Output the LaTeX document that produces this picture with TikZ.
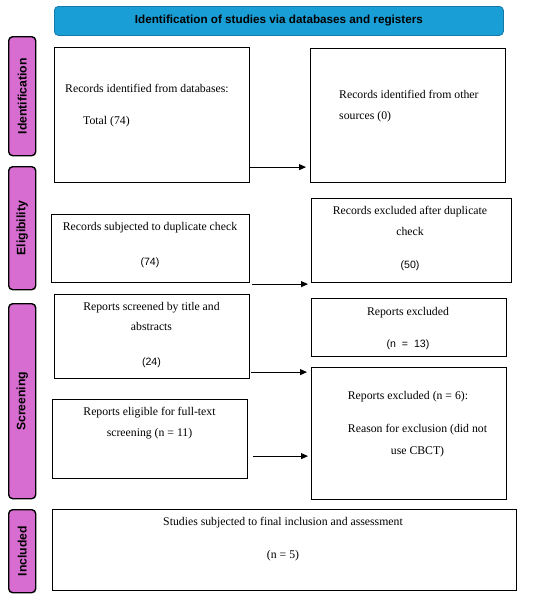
\documentclass[tikz,border=0pt]{standalone}
\usepackage{fontspec}
\setmainfont{Liberation Serif}
\setsansfont{Liberation Sans}
\usetikzlibrary{arrows.meta,calc}
\definecolor{titleblue}{HTML}{1A9ED6}
\definecolor{titleedge}{HTML}{1479A8}
\definecolor{phasepink}{HTML}{D76DD0}
\begin{document}
\begin{tikzpicture}[x=1pt,y=-1pt,
  box/.style={draw=black,line width=1.1pt,fill=white,anchor=north west,inner sep=0pt},
  titlebar/.style={draw=titleedge,line width=0.8pt,fill=titleblue,rounded corners=4pt,anchor=north west,inner sep=0pt,
    font=\sffamily\bfseries\fontsize{11.7}{13}\selectfont},
  phase/.style={draw=black,line width=1.4pt,fill=phasepink,rounded corners=4pt,anchor=north west,inner sep=0pt,minimum width=27pt},
  phasetext/.style={rotate=90,font=\sffamily\bfseries\fontsize{12.2}{13}\selectfont,inner sep=0pt},
  txt/.style={font=\fontsize{11.75}{14}\selectfont,inner sep=0pt},
  num/.style={font=\sffamily\fontsize{10.6}{12}\selectfont,inner sep=0pt},
  arr/.style={-{Triangle[length=7pt,width=6pt]},line width=1pt}]
\useasboundingbox (0,0) rectangle (550,598);

% title bar
\node[titlebar,minimum width=449pt,minimum height=29pt] (title) at (54,6) {Identification of studies via databases and registers};

% phase labels
\node[phase,minimum height=119pt] (p1) at (8,36) {};
\node[phasetext] at (p1.center) {Identification};
\node[phase,minimum height=123pt] (p2) at (8,166) {};
\node[phasetext] at (p2.center) {Eligibility};
\node[phase,minimum height=195pt] (p3) at (8,303) {};
\node[phasetext] at (p3.center) {Screening};
\node[phase,minimum height=83pt] (p4) at (8,509) {};
\node[phasetext] at (p4.center) {Included};

% boxes
\node[box,minimum width=195pt,minimum height=135pt] (b1) at (54,47) {};
\node[box,minimum width=195pt,minimum height=134pt] (b2) at (310,48) {};
\node[box,minimum width=198pt,minimum height=68pt] (b3) at (51,214) {};
\node[box,minimum width=200pt,minimum height=84pt] (b4) at (311,198) {};
\node[box,minimum width=195pt,minimum height=84pt] (b5) at (54,294) {};
\node[box,minimum width=195pt,minimum height=58pt] (b6) at (311,298) {};
\node[box,minimum width=195pt,minimum height=132pt] (b7) at (311,367) {};
\node[box,minimum width=195pt,minimum height=79pt] (b8) at (52,399) {};
\node[box,minimum width=464pt,minimum height=81pt] (b9) at (52,509) {};

% texts
\node[txt,anchor=mid west] (t1a) at (65,90) {Records identified from databases:};
\node[txt,anchor=mid west] (t1b) at (83,122) {Total (74)};
\node[txt,anchor=mid west] (t2a) at (339,96) {Records identified from other};
\node[txt,anchor=mid west] (t2b) at (339,117) {sources (0)};
\node[txt,anchor=mid] (t3a) at (150,228) {Records subjected to duplicate check};
\node[num,anchor=mid] (t3b) at (150,263) {(74)};
\node[txt,anchor=mid] (t4a) at (410,212) {Records excluded after duplicate};
\node[txt,anchor=mid] (t4b) at (410,233) {check};
\node[num,anchor=mid] (t4c) at (410,266) {(50)};
\node[txt,anchor=mid] (t5a) at (151.5,308) {Reports screened by title and};
\node[txt,anchor=mid] (t5b) at (151.5,328) {abstracts};
\node[num,anchor=mid] (t5c) at (151.5,363) {(24)};
\node[txt,anchor=mid] (t6a) at (408,313) {Reports excluded};
\node[num,anchor=mid] (t6b) at (408,345) {(n~~=~~13)};
\node[txt,anchor=mid] (t7a) at (408,397) {Reports excluded (n = 6):};
\node[txt,anchor=mid] (t7b) at (417.5,430) {Reason for exclusion (did not};
\node[txt,anchor=mid] (t7c) at (417.5,452) {use CBCT)};
\node[txt,anchor=mid] (t8a) at (149.5,413) {Reports eligible for full-text};
\node[txt,anchor=mid] (t8b) at (149.5,434) {screening (n = 11)};
\node[txt,anchor=mid] (t9a) at (283,523) {Studies subjected to final inclusion and assessment};
\node[txt,anchor=mid] (t9b) at (283,556) {(n = 5)};

% arrows
\draw[arr] ($(b1.south east)+(0,-16)$) coordinate (s1) -- ($(s1 -| b2.west)+(-4,0)$);
\draw[arr] ($(b3.south east)+(2,1)$) coordinate (s2) -- ($(s2 -| b4.west)+(-3,0)$);
\draw[arr] ($(b5.south east)+(1,-7)$) coordinate (s3) -- ($(s3 -| b7.west)+(-4,0)$);
\draw[arr] ($(b8.south east)+(5,-23)$) coordinate (s4) -- ($(s4 -| b7.west)+(-3,0)$);
\end{tikzpicture}
\end{document}
